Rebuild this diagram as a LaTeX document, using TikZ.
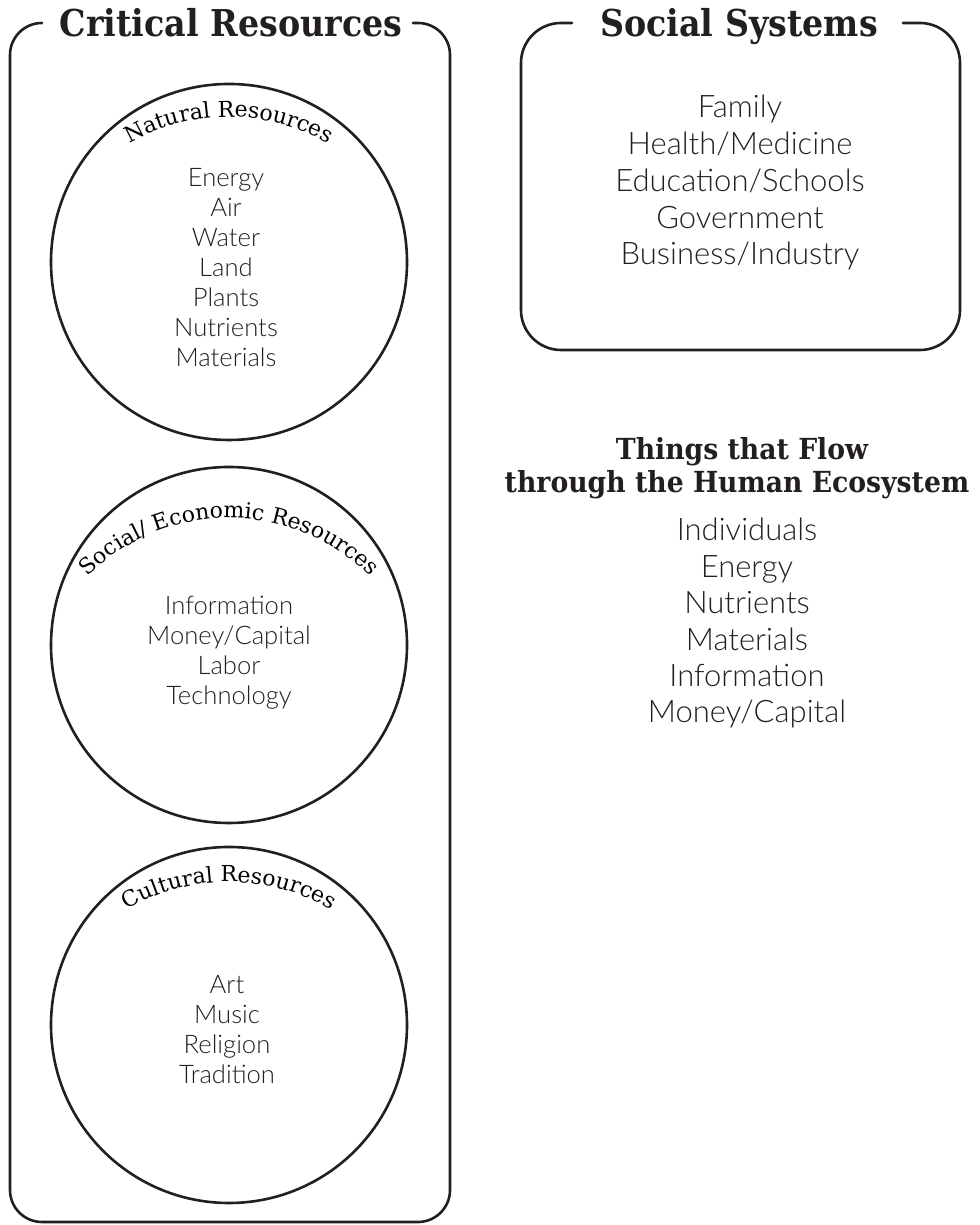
\documentclass[tikz,border=0pt]{standalone}
\usepackage{fontspec}
\usetikzlibrary{decorations.text}
\newfontfamily\headfont{DejaVu Serif}[FakeStretch=0.9]
\newfontfamily\subheadfont{DejaVu Serif}[FakeStretch=0.92]
\newfontfamily\arcfont{DejaVu Serif}
\newfontfamily\bodyfont{Lato Light}
\definecolor{ink}{HTML}{231F20}

\begin{document}
\begin{tikzpicture}[x=.5pt, y=.5pt, line join=round, line cap=round, color=ink, text=ink,
	frame/.style={line width=1.3pt, rounded corners=16pt},
	ring/.style={line width=1.3pt},
	title/.style={anchor=base, inner sep=0pt, font=\headfont\bfseries\fontsize{18.5}{22}\selectfont},
	subtitle/.style={title, font=\subheadfont\bfseries\fontsize{14.5}{17}\selectfont},
	item/.style={anchor=base, inner sep=0pt, font=\bodyfont\fontsize{12.8}{15}\selectfont},
	bigitem/.style={item, font=\bodyfont\fontsize{15.5}{18}\selectfont},
	arclabel/.style={decorate, decoration={text along path, text align=center,
		text={|\arcfont\fontsize{11}{13}\selectfont|#1}}}]
	\useasboundingbox (0,0) rectangle (979,1225);
	\node[title] (crit) at (231,1188) {Critical Resources};
	\node[title] (soc) at (739,1188) {Social Systems};
	\draw[frame] (42,1202) -- (10,1202) -- (10,3) -- (450,3) -- (450,1202) -- (413,1202);
	\draw[frame, rounded corners=20pt] (572,1202) -- (521,1202) -- (521,875) -- (960,875) -- (960,1202) -- (903,1202);
	\coordinate (nat) at (229,963);
	\coordinate (econ) at (229,580);
	\coordinate (cult) at (229,200);
	\draw[ring] (nat) circle[radius=178];
	\draw[ring] (econ) circle[radius=178];
	\draw[ring] (cult) circle[radius=178];
	\path[arclabel={Natural Resources}] (229,908) ++(170:200) arc[start angle=170, end angle=10, radius=200];
	\path[arclabel={Social/ Economic Resources}] (229,507) ++(170:200) arc[start angle=170, end angle=10, radius=200];
	\path[arclabel={Cultural Resources}] (229,143) ++(170:200) arc[start angle=170, end angle=10, radius=200];
	\foreach \t [count=\i from 0] in {Energy,Air,Water,Land,Plants,Nutrients,Materials}
		\node[item] (nat\i) at (226,1038-30*\i) {\t};
	\foreach \t [count=\i from 0] in {Information,Money/Capital,Labor,Technology}
		\node[item] (econ\i) at (229,610-30*\i) {\t};
	\foreach \t [count=\i from 0] in {Art,Music,Religion,Tradition}
		\node[item] (cult\i) at (227,231-30*\i) {\t};
	\foreach \t [count=\i from 0] in {Family,Health/Medicine,Education/Schools,Government,Business/Industry}
		\node[bigitem] (soc\i) at (740,1107-36.75*\i) {\t};
	\node[subtitle] (flowa) at (742,765) {Things that Flow};
	\node[subtitle] (flowb) at (737,732) {through the Human Ecosystem};
	\foreach \t [count=\i from 0] in {Individuals,Energy,Nutrients,Materials,Information,Money/Capital}
		\node[bigitem] (flow\i) at (747,684-36.4*\i) {\t};
\end{tikzpicture}
\end{document}
